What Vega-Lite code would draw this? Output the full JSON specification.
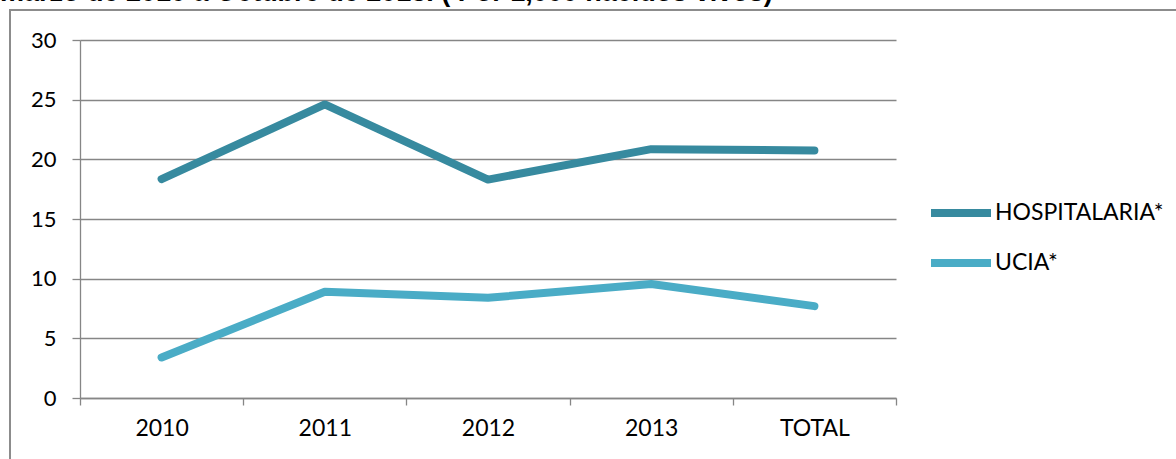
{
  "$schema": "https://vega.github.io/schema/vega-lite/v6.json",
  "width": 1167,
  "height": 450,
  "autosize": {"type": "none"},
  "padding": {"left": 10, "top": 10, "right": -1, "bottom": -1},
  "background": "white",
  "title": {
    "text": "marzo de 2010 a Octubre de 2013. ( Por 1,000 nacidos vivos)",
    "anchor": "start",
    "font": "Liberation Sans",
    "fontSize": 27,
    "fontWeight": "bold",
    "color": "black",
    "dx": -10,
    "offset": 3
  },
  "config": {
    "view": {"stroke": "#8c8c8c", "strokeWidth": 2},
    "axis": {
      "labelFont": "Lato",
      "labelColor": "black",
      "domainColor": "#868686",
      "tickColor": "#868686",
      "gridColor": "#868686",
      "domainWidth": 1.3,
      "tickWidth": 1.3,
      "gridWidth": 1.3,
      "title": null
    }
  },
  "data": {
    "values": [
      {"year": "2010", "series": "HOSPITALARIA*", "value": 18.35},
      {"year": "2011", "series": "HOSPITALARIA*", "value": 24.6},
      {"year": "2012", "series": "HOSPITALARIA*", "value": 18.3},
      {"year": "2013", "series": "HOSPITALARIA*", "value": 20.85},
      {"year": "TOTAL", "series": "HOSPITALARIA*", "value": 20.75},
      {"year": "2010", "series": "UCIA*", "value": 3.4},
      {"year": "2011", "series": "UCIA*", "value": 8.9},
      {"year": "2012", "series": "UCIA*", "value": 8.4},
      {"year": "2013", "series": "UCIA*", "value": 9.55},
      {"year": "TOTAL", "series": "UCIA*", "value": 7.7}
    ]
  },
  "mark": {"type": "line", "strokeWidth": 8, "strokeCap": "round", "strokeJoin": "round"},
  "encoding": {
    "x": {
      "field": "year",
      "type": "ordinal",
      "bandPosition": 0.5,
      "scale": {"type": "band", "range": [70, 886], "paddingInner": 0, "paddingOuter": 0},
      "axis": {
        "orient": "bottom",
        "offset": -62,
        "labelAngle": 0,
        "tickBand": "extent",
        "tickSize": 7,
        "labelPadding": 12,
        "labelFontSize": 23,
        "grid": false
      }
    },
    "y": {
      "field": "value",
      "type": "quantitative",
      "scale": {"domain": [0, 30], "range": [388, 30], "nice": false},
      "axis": {
        "orient": "left",
        "offset": -70,
        "values": [0, 5, 10, 15, 20, 25, 30],
        "tickSize": 8,
        "labelPadding": 16,
        "labelFontSize": 22,
        "grid": true
      }
    },
    "color": {
      "field": "series",
      "type": "nominal",
      "scale": {"domain": ["HOSPITALARIA*", "UCIA*"], "range": ["#378a9f", "#4aacc6"]},
      "legend": {
        "title": null,
        "orient": "none",
        "legendX": 917,
        "legendY": 169,
        "symbolType": "stroke",
        "symbolSize": 3600,
        "symbolStrokeWidth": 8,
        "labelOffset": 0,
        "labelLimit": 0,
        "labelFont": "Lato",
        "labelFontSize": 23,
        "labelColor": "black",
        "rowPadding": -32
      }
    }
  }
}
